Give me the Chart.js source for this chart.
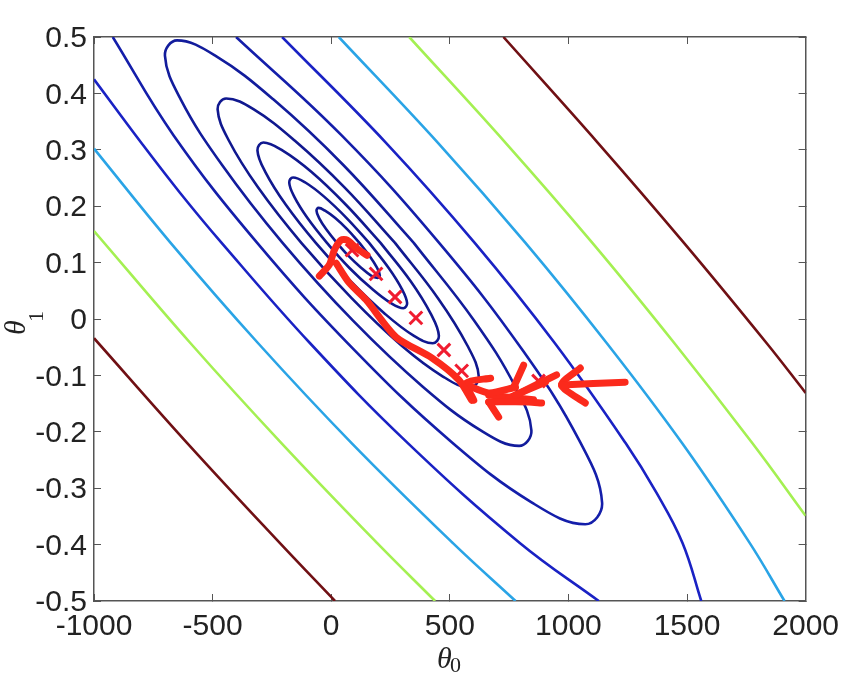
<!DOCTYPE html>
<html>
<head>
<meta charset="utf-8">
<title>Contour</title>
<script src="https://cdn.jsdelivr.net/npm/chart.js@4/dist/chart.umd.min.js"></script>
<style>
  html, body { margin: 0; padding: 0; background: #fff; }
  canvas { display: block; }
</style>
</head>
<body>
<canvas id="chart" width="854" height="684"></canvas>
<script>
/* =========================
   DATA (theta0, theta1)
========================= */
const xTicks = [-1000, -500, 0, 500, 1000, 1500, 2000];
const yTicks = [0.5, 0.4, 0.3, 0.2, 0.1, 0, -0.1, -0.2, -0.3, -0.4, -0.5];

const contourI = [[119,.135],[163,.111],[193,.091],[205,.077],[196,.073],[168,.077],[126,.091],[75,.111],[24,.135],[-21,.159],[-51,.179],[-62,.192],[-53,.197],[-26,.192],[17,.179],[68,.159],[119,.135]];
const contourH = [[160,.135],[243,.090],[298,.053],[320,.028],[304,.019],[252,.028],[173,.053],[78,.090],[-18,.135],[-100,.179],[-156,.217],[-177,.242],[-161,.251],[-109,.242],[-30,.217],[65,.179],[160,.135]];
const contourG = [[208,.135],[335,.067],[420,.009],[454,-.030],[428,-.043],[349,-.030],[227,.009],[82,.067],[-65,.135],[-192,.203],[-278,.261],[-311,.299],[-286,.313],[-206,.299],[-84,.261],[61,.203],[208,.135]];
const contourF = [[269,.135],[450,.037],[574,-.047],[622,-.102],[586,-.122],[471,-.102],[296,-.047],[86,.037],[-126,.135],[-308,.233],[-431,.316],[-479,.372],[-443,.391],[-328,.372],[-153,.316],[57,.233],[269,.135]];
const contourE = [[348,.135],[603,-.003],[776,-.120],[844,-.198],[792,-.225],[632,-.198],[386,-.120],[92,-.003],[-205,.135],[-460,.273],[-634,.389],[-701,.467],[-650,.494],[-489,.467],[-243,.389],[51,.273],[348,.135]];
const contourB = [[-921,.5],[-665,.326],[-312,.135],[100,-.056],[507,-.218],[848,-.326],[1071,-.364],[1142,-.326],[1049,-.218],[808,-.056],[455,.135],[43,.326],[-401,.5]];
const contourALower = [[-1000,.425],[-800,.312],[-636,.223],[-462,.135],[-89,-.043],[323,-.220],[795,-.397],[1128,-.5]];
const contourAUpper = [[-207,.5],[232,.312],[605,.135],[943,-.043],[1241,-.220],[1371,-.308],[1481,-.397],[1560,-.5]];
const cyanLower = [[-1000,.302],[-677,.135],[-308,-.043],[86,-.220],[512,-.397],[777,-.5]];
const cyanUpper = [[32,.5],[451,.312],[819,.135],[1162,-.043],[1479,-.220],[1764,-.397],[1911,-.5]];
const greenLower = [[-1000,.156],[-593,-.043],[-210,-.220],[193,-.397],[438,-.5]];
const greenUpper = [[329,.5],[736,.312],[1101,.135],[1447,-.043],[1775,-.220],[2000,-.349]];
const redLower = [[-1000,-.034],[-607,-.220],[-217,-.397],[16,-.5]];
const redUpper = [[726,.5],[1125,.312],[1487,.135],[1836,-.043],[2000,-.131]];

const crosses = [[88,.122],[189,.080],[269,.039],[357,.002],[475,-.055],[550,-.092],[874,-.110]];

// hand drawn arrows on top of the plot
const strokeHook = [[-50,.076],[-8,.096],[13,.122],[42,.140],[67,.140],[105,.126],[151,.113]];
const strokeMain = [[21,.099],[76,.064],[147,.034],[273,-.032],[424,-.069],[538,-.108],[592,-.144]];
const strokeHead1 = [[672,-.105],[571,-.113],[601,-.144]];
const strokeLink1 = [[571,-.117],[664,-.131],[777,-.121]];
const strokeHead2 = [[811,-.082],[769,-.121]];
const strokeLink2 = [[664,-.147],[832,-.147],[887,-.149]];
const strokeTail = [[664,-.147],[706,-.174]];
const strokeLink3 = [[777,-.135],[950,-.099]];
const strokeLink4 = [[748,-.140],[903,-.112]];
const strokeBlob = [[664,-.135],[853,-.143]];
const strokeLast = [[1239,-.112],[971,-.117]];
const strokeLastHead = [[1050,-.087],[971,-.117],[1071,-.149]];

const contourLines = [
  [contourI, '#10188f'], [contourH, '#10188f'], [contourG, '#10188f'], [contourF, '#10188f'],
  [contourE, '#121c9c'], [contourB, '#141eaa'],
  [contourALower, '#1a22c4'], [contourAUpper, '#1a22c4'],
  [cyanLower, '#2aa4e6'], [cyanUpper, '#2aa4e6'],
  [greenLower, '#a4f052'], [greenUpper, '#a4f052'],
  [redLower, '#701014'], [redUpper, '#701014'],
];
const redStrokes = [strokeHook, strokeMain, strokeHead1, strokeLink1, strokeHead2, strokeLink2, strokeTail, strokeLink3, strokeLink4, strokeBlob, strokeLast, strokeLastHead];

/* =========================
   CHART
========================= */
const toPoints = (pts) => pts.map(([x, y]) => ({ x, y }));

const datasets = [];
contourLines.forEach(([pts, color]) => {
  datasets.push({ data: toPoints(pts), showLine: true, borderColor: color, borderWidth: 2.6, pointRadius: 0, tension: 0.4, order: 3 });
});
datasets.push({ data: toPoints(crosses), showLine: false, pointStyle: 'crossRot', pointRadius: 9, pointBorderWidth: 3, pointBorderColor: '#f01c30', order: 2 });
redStrokes.forEach((pts) => {
  datasets.push({ data: toPoints(pts), showLine: true, borderColor: '#fb2a1c', borderWidth: 7, borderCapStyle: 'round', borderJoinStyle: 'round', pointRadius: 0, tension: 0.25, order: 1 });
});

// axis names, theta with a plain subscript (y one is rotated like the original)
const axisNames = {
  id: 'axisNames',
  afterDraw(chart) {
    const ctx = chart.ctx;
    const thetaFont = "italic 30px 'Liberation Serif', serif";
    const subFont = "22px 'Liberation Serif', serif";
    ctx.save();
    ctx.fillStyle = '#222';
    ctx.textAlign = 'left';
    ctx.textBaseline = 'alphabetic';

    ctx.font = thetaFont;
    ctx.fillText('θ', 437, 668);
    ctx.font = subFont;
    ctx.fillText('0', 450, 672);

    ctx.translate(25, 335);
    ctx.rotate(-Math.PI / 2);
    ctx.font = thetaFont;
    ctx.fillText('θ', 0, 0);
    ctx.font = subFont;
    ctx.fillText('1', 13, 18);
    ctx.restore();
  },
};

const tickFont = { family: "'Liberation Sans', sans-serif", size: 30 };
const frameGrid = { drawOnChartArea: false, tickLength: -7, tickColor: '#555', tickWidth: 1 };
const frameBorder = { display: true, color: '#555', width: 1.5 };
const setTicks = (values) => (scale) => { scale.ticks = values.map((value) => ({ value })); };

new Chart(document.getElementById('chart'), {
  type: 'scatter',
  data: { datasets },
  plugins: [axisNames],
  options: {
    responsive: false,
    animation: false,
    devicePixelRatio: 1,
    layout: { autoPadding: false, padding: { top: 37, right: 46, left: 0, bottom: 0 } },
    plugins: { legend: { display: false }, tooltip: { enabled: false } },
    scales: {
      x: {
        min: -1000, max: 2000, position: 'bottom',
        afterBuildTicks: setTicks(xTicks),
        afterFit: (scale) => { scale.height = 83; },
        grid: frameGrid, border: frameBorder,
        ticks: { font: tickFont, color: '#222', padding: 15, autoSkip: false, maxRotation: 0, callback: (v) => String(v) },
      },
      y: {
        min: -0.5, max: 0.5, position: 'left',
        afterBuildTicks: setTicks(yTicks),
        afterFit: (scale) => { scale.width = 94; },
        grid: frameGrid, border: frameBorder,
        ticks: { font: tickFont, color: '#222', padding: 14, labelOffset: 2, autoSkip: false, callback: (v) => String(v) },
      },
      xTop: {
        type: 'linear', axis: 'x', min: -1000, max: 2000, position: 'top',
        afterBuildTicks: setTicks(xTicks),
        afterFit: (scale) => { scale.height = 0; },
        grid: frameGrid, border: frameBorder, ticks: { display: false },
      },
      yRight: {
        type: 'linear', axis: 'y', min: -0.5, max: 0.5, position: 'right',
        afterBuildTicks: setTicks(yTicks),
        afterFit: (scale) => { scale.width = 0; },
        grid: frameGrid, border: frameBorder, ticks: { display: false },
      },
    },
  },
});
</script>
</body>
</html>
